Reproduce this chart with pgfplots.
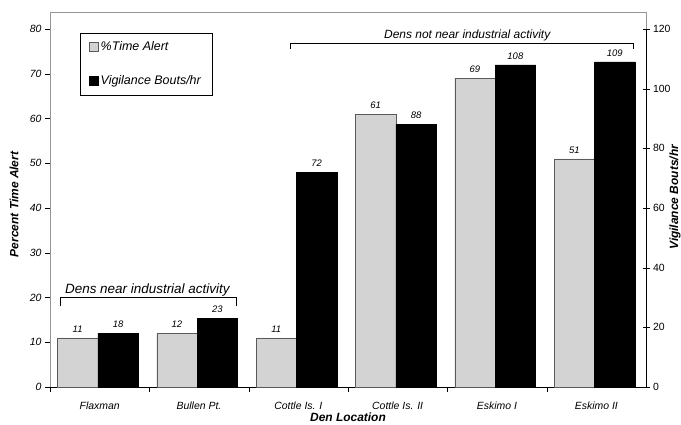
\documentclass[border=0pt]{standalone}
\usepackage{pgfplots}
\pgfplotsset{compat=1.18}
\usepackage{fontspec}
\setmainfont{Liberation Sans}
\definecolor{lgray}{RGB}{211,211,211}
\definecolor{edgegray}{RGB}{90,90,90}
\definecolor{framegray}{RGB}{150,150,150}
\newcommand{\fs}[1]{\fontsize{#1}{#1}\selectfont}
\begin{document}
\begin{tikzpicture}
\useasboundingbox (-50bp,-38bp) rectangle (631bp,387bp);
\begin{axis}[
  scale only axis, width=596bp, height=358bp,
  at={(0,0)}, anchor=south west,
  xmin=-0.5, xmax=5.5, ymin=0, ymax=80,
  axis x line*=bottom, axis y line*=left,
  clip=false,
  /pgf/number format/assume math mode=true,
  xtick={0,1,2,3,4,5},
  xticklabels={Flaxman, Bullen Pt., Cottle Is. I, Cottle Is. II, Eskimo I, Eskimo II},
  major x tick style={draw=none},
  minor xtick={-0.5,0.5,1.5,2.5,3.5,4.5},
  minor x tick style={black},
  minor tick length=5bp,
  x tick label style={font=\itshape\fs{10.5}, yshift=-6bp},
  ytick={0,10,...,80},
  y tick label style={font=\itshape\fs{10.5}},
  major tick length=5bp,
  ytick align=outside, xtick align=outside,
  tick style={black},
  xlabel={\bfseries\itshape\fs{12}Den Location},
  xlabel style={at={(rel axis cs:0.5,0)}, anchor=center, yshift=-30bp},
  ylabel={\bfseries\itshape\fs{12}Percent Time Alert},
  ylabel style={at={(rel axis cs:0,0.51)}, anchor=center, yshift=36bp},
  ybar, bar width=0.407, bar shift=0pt,
  nodes near coords,
  every node near coord/.append style={font=\itshape\fs{9.5}, yshift=2bp},
  legend style={at={(rel axis cs:0.0505,0.99)}, anchor=north west, draw=black,
    font=\itshape\fs{12.5}, inner xsep=9bp, inner ysep=7bp, row sep=19bp, fill=white},
  legend cell align=left,
  legend image code/.code={\draw[#1] (0bp,-4.5bp) rectangle (9bp,4.5bp);},
]
\draw[framegray] (rel axis cs:0,0) -- (rel axis cs:0,1.0475) -- (rel axis cs:1,1.0475) -- (rel axis cs:1,1);
\addplot[fill=lgray, draw=edgegray] coordinates {(-0.222,11) (0.778,12) (1.778,11) (2.778,61) (3.778,69) (4.778,51)};
\addlegendentry{\%Time Alert}
\addlegendimage{fill=black, draw=black}
\addlegendentry{Vigilance Bouts/hr}
% brackets
\draw[black] (axis cs:-0.4,18) -- (axis cs:-0.4,20) -- (axis cs:1.37,20) -- (axis cs:1.37,18);
\node[font=\itshape\fs{13.5}, anchor=base] at (axis cs:0.48,21.0) {Dens near industrial activity};
\draw[black] (axis cs:1.92,75.6) -- (axis cs:1.92,76.9) -- (axis cs:5.37,76.9) -- (axis cs:5.37,75.6);
\node[font=\itshape\fs{12}, anchor=base] at (axis cs:3.7,77.9) {Dens not near industrial activity};
\end{axis}
\begin{axis}[
  scale only axis, width=596bp, height=358bp,
  at={(0,0)}, anchor=south west,
  xmin=-0.5, xmax=5.5, ymin=0, ymax=120,
  axis x line=none, axis y line*=right,
  clip=false,
  /pgf/number format/assume math mode=true,
  ytick={0,20,...,120},
  y tick label style={font=\fs{10.5}},
  major tick length=7bp,
  ytick align=center,
  tick style={black},
  ylabel={\bfseries\itshape\fs{12}Vigilance Bouts/hr},
  ylabel style={at={(rel axis cs:1,0.53)}, anchor=center, rotate=0, yshift=-29bp},
  ybar, bar width=0.407, bar shift=0pt,
  nodes near coords,
  every node near coord/.append style={font=\itshape\fs{9.5}, yshift=2bp},
]
\addplot[fill=black, draw=black] coordinates {(0.185,18) (1.185,23) (2.185,72) (3.185,88) (4.185,108) (5.185,109)};
\end{axis}
\end{tikzpicture}
\end{document}
